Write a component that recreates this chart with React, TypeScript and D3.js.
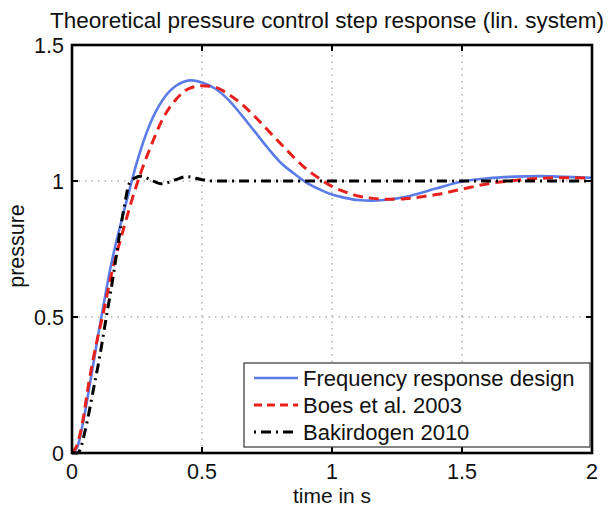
import { useMemo } from 'react';
import * as d3 from 'd3';

const W = 610;
const H = 506;

// Frequency response design (blue, solid)
const blueT = [0, 0.02, 0.04, 0.07, 0.1, 0.113, 0.15, 0.2, 0.23, 0.25, 0.3, 0.35, 0.4, 0.46, 0.5, 0.55, 0.6, 0.65, 0.7, 0.75, 0.8, 0.85, 0.9, 0.95, 1.0, 1.05, 1.1, 1.15, 1.2, 1.3, 1.4, 1.5, 1.6, 1.7, 1.8, 1.9, 2.0];
const blueY = [0, 0.02, 0.1, 0.26, 0.43, 0.5, 0.69, 0.89, 1.0, 1.07, 1.21, 1.3, 1.35, 1.37, 1.362, 1.34, 1.3, 1.245, 1.185, 1.125, 1.07, 1.03, 0.995, 0.97, 0.95, 0.938, 0.93, 0.928, 0.93, 0.945, 0.972, 0.998, 1.01, 1.016, 1.018, 1.015, 1.012];

// Boes et al. 2003 (red, dashed)
const redT = [0, 0.02, 0.04, 0.065, 0.1, 0.117, 0.15, 0.2, 0.25, 0.3, 0.35, 0.4, 0.45, 0.5, 0.55, 0.6, 0.65, 0.7, 0.75, 0.8, 0.85, 0.9, 0.95, 1.0, 1.05, 1.1, 1.15, 1.2, 1.25, 1.3, 1.4, 1.5, 1.6, 1.7, 1.8, 1.9, 2.0];
const redY = [0, 0.03, 0.11, 0.26, 0.43, 0.5, 0.65, 0.83, 0.99, 1.12, 1.23, 1.3, 1.34, 1.35, 1.345, 1.32, 1.285, 1.24, 1.19, 1.14, 1.09, 1.045, 1.01, 0.98, 0.96, 0.945, 0.937, 0.933, 0.933, 0.937, 0.95, 0.97, 0.99, 1.002, 1.01, 1.012, 1.01];

// Bakirdogen 2010 (black, dash-dot)
const blackT = [0, 0.02, 0.03, 0.05, 0.087, 0.1, 0.132, 0.15, 0.2, 0.22, 0.24, 0.27, 0.3, 0.345, 0.4, 0.44, 0.5, 0.55, 1.0, 1.5, 2.0];
const blackY = [0, 0, 0.01, 0.08, 0.257, 0.32, 0.5, 0.6, 0.9, 0.99, 1.01, 1.018, 1.005, 0.99, 1.005, 1.016, 1.005, 1.0, 1.0, 1.0, 1.0];

const xTicks = [0, 0.5, 1, 1.5, 2];
const yTicks = [0, 0.5, 1, 1.5];
const seriesNames = ['Frequency response design', 'Boes et al. 2003', 'Bakirdogen 2010'];

const FONT = '"Liberation Sans", Arial, Helvetica, sans-serif';

const margin = { left: 72, right: 18, top: 45, bottom: 53 };

export default function App() {
  const x = d3.scaleLinear().domain([0, 2]).range([margin.left, W - margin.right]);
  const y = d3.scaleLinear().domain([0, 1.5]).range([H - margin.bottom, margin.top]);

  const series = useMemo(() => [
    { name: seriesNames[0], t: blueT, v: blueY, color: '#5b7ce8', width: 2.6, dash: undefined as string | undefined },
    { name: seriesNames[1], t: redT, v: redY, color: '#e8201c', width: 3, dash: '10,6' },
    { name: seriesNames[2], t: blackT, v: blackY, color: '#000000', width: 3, dash: '10,5,2,5' },
  ], []);

  const line = d3.line<[number, number]>()
    .x(d => x(d[0]))
    .y(d => y(d[1]))
    .curve(d3.curveMonotoneX);

  const [x0, x1] = x.range();
  const [y0, y1] = y.range();
  const tickLen = 6;

  const legX = 244, legY = 363, legW = 346, legH = 84;

  return (
    <svg width={W} height={H} style={{ position: 'absolute', left: 0, top: 0, background: '#fff' }} fontFamily={FONT}>
      <rect width={W} height={H} fill="#fff" />
      <text x={327} y={28} textAnchor="middle" fontSize={22.5} fill="#111">
        Theoretical pressure control step response (lin. system)
      </text>

      {/* grid */}
      {xTicks.slice(1, -1).map(t => (
        <line key={'gx' + t} x1={x(t)} x2={x(t)} y1={y0} y2={y1} stroke="#888" strokeWidth={1} strokeDasharray="1.5,5" />
      ))}
      {yTicks.slice(1, -1).map(t => (
        <line key={'gy' + t} x1={x0} x2={x1} y1={y(t)} y2={y(t)} stroke="#888" strokeWidth={1} strokeDasharray="1.5,5" />
      ))}

      {/* series */}
      {series.map(s => (
        <path key={s.name} d={line(s.t.map((t, i) => [t, s.v[i]] as [number, number])) || ''}
          fill="none" stroke={s.color} strokeWidth={s.width} strokeDasharray={s.dash} />
      ))}

      {/* ticks */}
      {xTicks.map(t => (
        <g key={'xt' + t}>
          <line x1={x(t)} x2={x(t)} y1={y0} y2={y0 - tickLen} stroke="#000" strokeWidth={2} />
          <line x1={x(t)} x2={x(t)} y1={y1} y2={y1 + tickLen} stroke="#000" strokeWidth={2} />
          <text x={x(t)} y={479} textAnchor="middle" fontSize={21.5} fill="#111">{t}</text>
        </g>
      ))}
      {yTicks.map(t => (
        <g key={'yt' + t}>
          <line x1={x0} x2={x0 + tickLen} y1={y(t)} y2={y(t)} stroke="#000" strokeWidth={2} />
          <line x1={x1} x2={x1 - tickLen} y1={y(t)} y2={y(t)} stroke="#000" strokeWidth={2} />
          <text x={64} y={y(t)} dy="0.36em" textAnchor="end" fontSize={21.5} fill="#111">{t}</text>
        </g>
      ))}

      {/* box */}
      <rect x={x0} y={y1} width={x1 - x0} height={y0 - y1} fill="none" stroke="#000" strokeWidth={2.6} />

      {/* axis labels */}
      <text x={(x0 + x1) / 2} y={503} textAnchor="middle" fontSize={21} fill="#111">time in s</text>
      <text transform={`translate(24,${(y0 + y1) / 2 - 3}) rotate(-90)`} textAnchor="middle" fontSize={21.5} fill="#111">pressure</text>

      {/* legend */}
      <rect x={legX} y={legY} width={legW} height={legH} fill="#fff" stroke="#333" strokeWidth={1.2} />
      {series.map((s, i) => {
        const cy = legY + 15 + i * 27;
        return (
          <g key={'lg' + s.name}>
            <line x1={254} x2={298} y1={cy} y2={cy} stroke={s.color} strokeWidth={s.width}
              strokeDasharray={i === 1 ? '8,5' : i === 2 ? '2,5,10,5' : undefined} />
            <text x={303} y={cy} dy="0.36em" fontSize={22} fill="#111">{s.name}</text>
          </g>
        );
      })}
    </svg>
  );
}
